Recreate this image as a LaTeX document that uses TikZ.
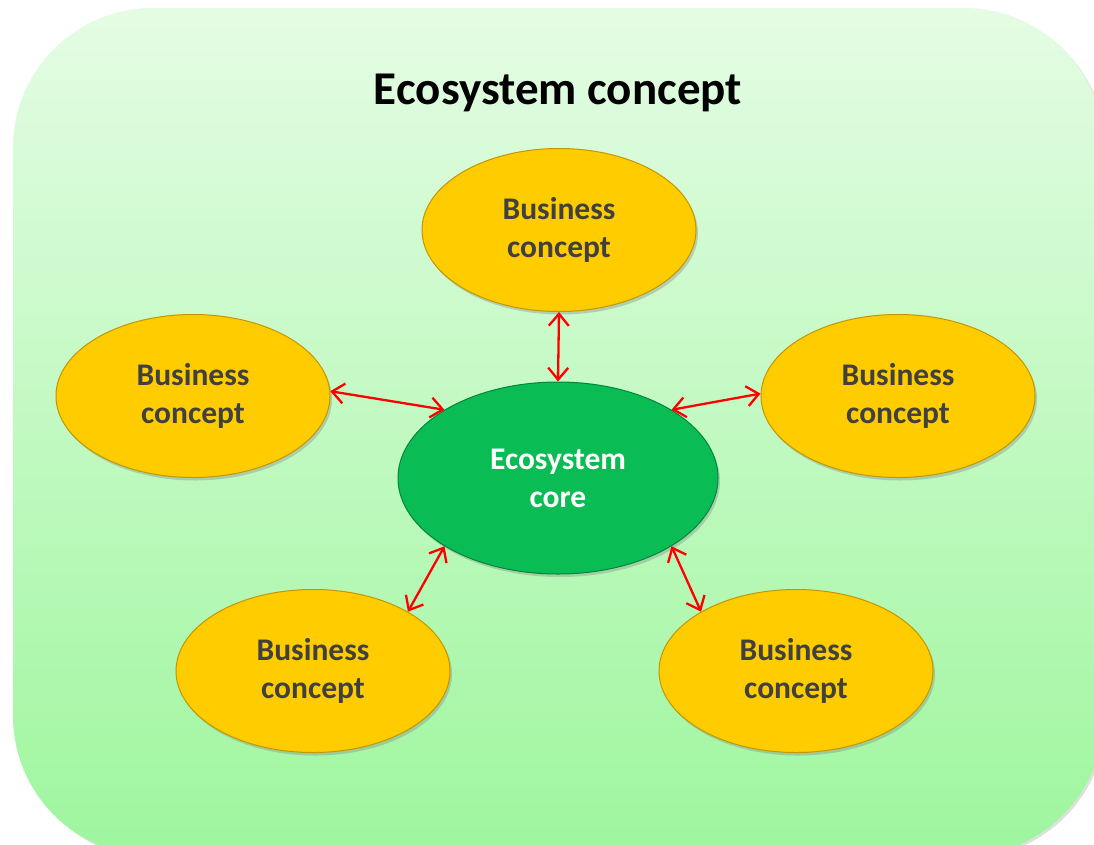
\documentclass[tikz,border=0pt]{standalone}
\usepackage{fontspec}
\setmainfont{Carlito}
\usepackage{tikz}
\usetikzlibrary{shapes,arrows.meta,shadows}

\definecolor{bgtop}{RGB}{228,252,228}
\definecolor{bgbottom}{RGB}{158,246,158}
\definecolor{bizfill}{RGB}{255,204,0}
\definecolor{bizline}{RGB}{196,150,0}
\definecolor{corefill}{RGB}{10,188,84}
\definecolor{coreline}{RGB}{0,135,60}
\definecolor{biztext}{RGB}{64,64,64}

\begin{document}
\begin{tikzpicture}[x=1pt,y=-1pt]
            \tikzstyle{business}=[ellipse, minimum width=274pt, minimum height=163pt, inner sep=0pt, fill=bizfill, draw=bizline, line width=1pt, text=biztext, align=center, font=\fontsize{31.5}{38}\selectfont\bfseries, drop shadow={shadow xshift=2pt, shadow yshift=-3pt, opacity=0.35}]
            \tikzstyle{core}=[ellipse, minimum width=320pt, minimum height=192pt, inner sep=0pt, fill=corefill, draw=coreline, line width=1pt, text=white, align=center, font=\fontsize{31.5}{38}\selectfont\bfseries, drop shadow={shadow xshift=2pt, shadow yshift=-3pt, opacity=0.35}]
            \tikzstyle{link}=[draw=red, line width=2.3pt, <->, >={Straight Barb[length=12pt,width=20pt]}]
            \useasboundingbox (0,0) rectangle (1094,844);
            % background panel
            \path[top color=bgtop, bottom color=bgbottom, rounded corners=140pt, drop shadow={shadow xshift=2pt, shadow yshift=-2pt, opacity=0.25}] (13,8) rectangle (1104,856);
            \node[font=\fontsize{47}{56}\selectfont\bfseries] (title) at (558,93){Ecosystem concept};
            \node[core] (eco) at (558,478){Ecosystem\\core};
            \node[business] (bT) at (559,230){Business\\concept};
            \node[business] (bL) at (193,396){Business\\concept};
            \node[business] (bR) at (898,396){Business\\concept};
            \node[business] (bBL) at (313,671){Business\\concept};
            \node[business] (bBR) at (796,671){Business\\concept};
            \path (eco.90) edge [link] (bT.270);
            \path (eco.149) edge [link] (bL.2);
            \path (eco.31) edge [link] (bR.179);
            \path (eco.211) edge [link] (bBL.32);
            \path (eco.329) edge [link] (bBR.148);
\end{tikzpicture}
\end{document}
